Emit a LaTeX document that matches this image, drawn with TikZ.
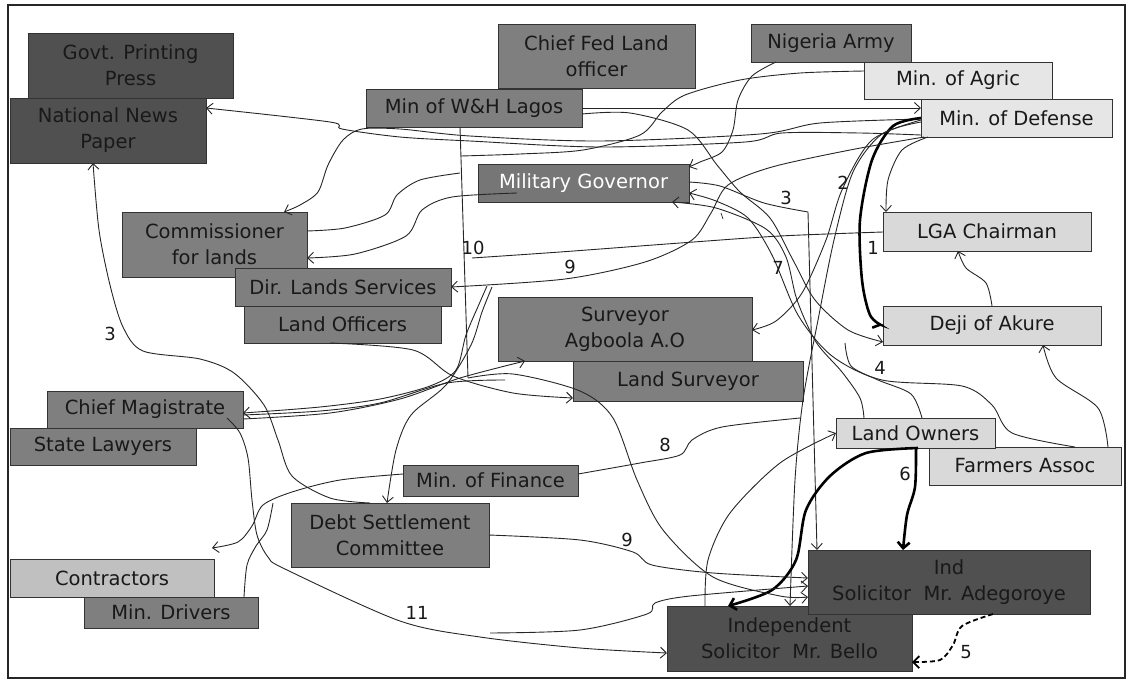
\documentclass[tikz,border=0pt]{standalone}
\usepackage{fontspec}
\setmainfont{DejaVu Sans}
\usetikzlibrary{arrows.meta,calc}
\definecolor{boxdark}{HTML}{505050}
\definecolor{boxmid}{HTML}{7F7F7F}
\definecolor{boxlight}{HTML}{D9D9D9}
\definecolor{boxpale}{HTML}{E6E6E6}
\definecolor{boxsilver}{HTML}{C0C0C0}
\definecolor{boxgov}{HTML}{767676}
\begin{document}
\begin{tikzpicture}[x=1pt,y=-1pt,
  box/.style={draw=black!80,line width=0.8pt,inner sep=0pt,outer sep=0pt,align=center,
    font=\fontsize{19.5}{26}\selectfont,text=black!90},
  dark/.style={box,fill=boxdark},
  mid/.style={box,fill=boxmid},
  light/.style={box,fill=boxlight},
  pale/.style={box,fill=boxpale},
  wire/.style={draw=black!85,line width=0.9pt},
  arr/.style={wire,-{Straight Barb[length=6pt,width=11pt]}},
  heavy/.style={draw=black,line width=2.6pt,-{Straight Barb[length=6pt,width=12pt]}},
  num/.style={font=\fontsize{18}{18}\selectfont,inner sep=1pt,text=black!90}]
\useasboundingbox (0,0) rectangle (1130,681);
\draw[line width=1.5pt,black!85] (8,5) rectangle (1125,678);

% ---- boxes ----
\node[dark,minimum width=205,minimum height=65] (govt) at (130.5,65.5) {Govt. Printing\\Press};
\node[dark,minimum width=196,minimum height=65] (nnp) at (108,130.5) {National News\\Paper};
\node[mid,minimum width=197,minimum height=64] (cfl) at (596.5,56) {Chief Fed Land\\officer};
\node[mid,minimum width=216,minimum height=38] (wh) at (474,108) {Min of W\&H Lagos};
\node[mid,minimum width=160,minimum height=38] (army) at (831,43) {Nigeria Army};
\node[pale,minimum width=188,minimum height=37] (agric) at (958,80.5) {Min. of Agric};
\node[pale,minimum width=191,minimum height=38] (def) at (1016.5,118) {Min. of Defense};
\node[box,fill=boxgov,text=white,minimum width=211,minimum height=38] (mg) at (583.5,183) {Military Governor};
\node[mid,minimum width=185,minimum height=65] (comm) at (214.5,244.5) {Commissioner\\for lands};
\node[mid,minimum width=216,minimum height=38] (dir) at (343,287) {Dir. Lands Services};
\node[mid,minimum width=197,minimum height=37] (lof) at (342.5,324.5) {Land Officers};
\node[mid,minimum width=254,minimum height=64] (surv) at (625,329) {Surveyor\\Agboola A.O};
\node[mid,minimum width=230,minimum height=40] (ls) at (688,381) {Land Surveyor};
\node[light,minimum width=208,minimum height=39] (lga) at (987,231.5) {LGA Chairman};
\node[light,minimum width=218,minimum height=39] (deji) at (992,325.5) {Deji of Akure};
\node[light,minimum width=192,minimum height=38] (farm) at (1025,466) {Farmers Assoc};
\node[light,minimum width=159,minimum height=30] (lo2) at (915.5,433) {Land Owners};
\node[mid,minimum width=196,minimum height=37] (cm) at (145,409.5) {Chief Magistrate};
\node[mid,minimum width=186,minimum height=37] (sl) at (103,446.5) {State Lawyers};
\node[mid,minimum width=175,minimum height=31] (fin) at (490.5,480.5) {Min. of Finance};
\node[mid,minimum width=198,minimum height=64] (debt) at (390,535) {Debt Settlement\\Committee};
\node[box,fill=boxsilver,minimum width=204,minimum height=38] (con) at (112,578) {Contractors};
\node[mid,minimum width=174,minimum height=31] (drv) at (171,612.5) {Min. Drivers};
\node[dark,minimum width=245,minimum height=65] (bello) at (789.5,638.5) {Independent\\Solicitor~~Mr. Bello};
\node[dark,minimum width=282,minimum height=64] (ind) at (949,582) {Ind\\Solicitor~~Mr. Adegoroye};

% ---- junction points and free ends ----
\coordinate (vtop) at (wh.south -| 460,0);
\coordinate (vbot) at (468,378);
\coordinate (vjoin) at (461,156);
\coordinate (vmid) at (460,173);
\coordinate (tenend) at (472,258);
\coordinate (mgin) at (517,193);
\coordinate (eightend) at (800,418);
\coordinate (loose) at (490,633);
\coordinate (nineA) at (487,286);
\coordinate (nineB) at (492,287);
\coordinate (lineC) at (505,380);
\coordinate (cmtxt) at (227,418);
\coordinate (conend) at ($(con.north east)+(-2,-11)$);
\coordinate (drvend) at (273,503);
\coordinate (lotip) at (845,343);

% ---- connectors ----
\draw[wire] (vtop) -- (vbot);
\draw[arr] plot[smooth] coordinates {(def.west |- 0,135) (860,133) (782,133) (745,142) (600,147) (470,141) (400,137) (342,129) (330,122) (nnp.east |- 0,108)};
\draw[arr] plot[smooth] coordinates {(def.west |- 0,119) (820,123) (760,134) (600,141) (470,136) (400,129) (362,129) (343,140) (328,165) (318,192) (300,205) (comm.north -| 284,0)};
\draw[arr] (wh.east |- 0,108) -- (def.west |- 0,108);
\draw[arr] plot[smooth] coordinates {(army.south -| 776,0) (752,76) (738,100) (733,130) (722,152) (700,162) (mg.east |- 0,167)};
\draw[wire] plot[smooth] coordinates {(agric.west |- 0,71) (800,73) (740,80) (685,95) (662,112) (640,135) (583,150) (520,154) (vjoin)};
\draw[arr] plot[smooth] coordinates {(wh.east |- 0,114) (630,113) (688,130) (717,165) (740,192) (770,218) (793,260) (815,300) (848,330) (deji.west |- 0,342)};
\draw[arr] plot[smooth] coordinates {(def.south -| 928,0) (902,150) (888,180) (lga.north -| 886,0)};
\draw[draw=black,line width=2.6pt,-{Straight Barb[length=6pt,width=12pt,harpoon,swap]}] plot[smooth] coordinates {(def.west |- 0,118) (893,126) (872,160) (860,220) (862,280) (870,315) (deji.west |- 0,326)};
\draw[arr] plot[smooth] coordinates {(def.west |- 0,120) (872,140) (842,190) (826,240) (802,293) (776,321) (surv.east |- 0,330)};
\draw[arr] plot[smooth] coordinates {(def.west |- 0,122) (882,134) (853,172) (834,240) (818,320) (803,400) (795,480) (bello.north -| 790,0)};
\draw[arr] plot[smooth] coordinates {(def.south -| 924,0) (850,150) (772,167) (728,185) (711,213) (692,240) (645,262) (565,279) (dir.east |- 0,287)};
\draw[wire] plot[smooth] coordinates {(lga.west |- 0,232) (780,236) (680,243) (560,252) (tenend)};
\draw[arr] plot[smooth] coordinates {(mg.east |- 0,182) (720,186) (764,203) (808,212)} -- (ind.north -| 817,0);
\draw[arr] plot[smooth] coordinates {(mgin) (452,197) (422,210) (406,236) (355,254) (comm.east |- 0,258)};
\draw[wire] plot[smooth] coordinates {(vmid) (420,180) (397,195) (385,215) (345,228) (comm.east |- 0,231)};
\draw[arr] plot[smooth] coordinates {(farm.north -| 1075,0) (1012,433) (992,405) (962,386) (882,380) (832,356) (798,315) (772,255) (748,218) (716,201) (mg.east |- 0,193)};
\draw[arr] plot[smooth] coordinates {(lo2.north -| 864,0) (860,398) (842,372) (816,342) (797,300) (786,257) (766,229) (716,208) (mg.south -| 672,0)};
\draw[wire] plot[smooth] coordinates {(lo2.north -| 922,0) (911,394) (878,380) (851,366) (lotip)};
\draw[arr] plot[smooth] coordinates {(deji.north -| 992,0) (986,283) (966,268) (lga.south -| 958,0)};
\draw[arr] plot[smooth] coordinates {(farm.north -| 1108,0) (1098,408) (1056,378) (deji.south -| 1043,0)};
\draw[heavy] plot[smooth] coordinates {(lo2.south -| 916,0) (915,487) (907,515) (ind.north -| 903,0)};
\draw[heavy] plot[smooth] coordinates {(lo2.south -| 918,0) (866,453) (830,476) (806,510) (796,560) (772,590) (bello.north -| 728,0)};
\draw[draw=black,line width=1.8pt,dash pattern=on 5pt off 3pt,-{Straight Barb[length=6pt,width=12pt]}] plot[smooth] coordinates {(ind.south -| 993,0) (962,626) (953,645) (940,660) (bello.east |- 0,662)};
\draw[arr] plot[smooth] coordinates {(bello.north -| 705,0) (708,560) (730,513) (780,463) (lo2.west |- 0,433)};
\draw[wire] plot[smooth] coordinates {(fin.east |- 0,474) (640,463) (680,455) (692,440) (722,427) (eightend)};
\draw[arr] plot[smooth] coordinates {(debt.east |- 0,535) (580,540) (633,552) (652,565) (713,573) (ind.west |- 0,578)};
\draw[arr] plot[smooth] coordinates {(loose) (580,630) (647,614) (655,603) (690,596) (ind.west |- 0,586)};
\draw[arr] plot[smooth] coordinates {(vbot) (513,374) (580,391) (613,418) (637,480) (663,530) (713,577) (780,596) (ind.west |- 0,597)};
\draw[arr] plot[smooth] coordinates {(lof.south -| 330,0) (413,350) (453,376) (513,393) (ls.west |- 0,398)};
\draw[arr] plot[smooth] coordinates {(nineA) (480,302) (466,335) (456,370) (430,386) (380,399) (320,407) (cm.east |- 0,413)};
\draw[wire] plot[smooth] coordinates {(lineC) (447,383) (380,403) (320,411) (cm.east |- 0,415)};
\draw[arr] plot[smooth] coordinates {(cm.east |- 0,419) (330,413) (400,399) (460,378) (surv.south -| 525,0)};
\draw[arr] plot[smooth] coordinates {(nineB) (482,312) (471,345) (446,385) (411,415) (396,450) (debt.north -| 387,0)};
\draw[arr] plot[smooth] coordinates {(debt.north -| 370,0) (330,498) (292,476) (278,440) (264,405) (234,373) (200,359) (143,351) (123,327) (110,285) (99,230) (nnp.south -| 93,0)};
\draw[arr] plot[smooth] coordinates {(cmtxt) (240,433) (248,458) (252,500) (257,535) (268,557) (285,569) (400,621) (480,637) (580,648) (bello.west |- 0,653)};
\draw[arr] plot[smooth] coordinates {(fin.west |- 0,474) (340,480) (292,492) (263,505) (252,526) (238,542) (conend)};
\draw[wire] plot[smooth] coordinates {(drv.north -| 244,0) (247,565) (256,546) (267,530) (drvend)};
\draw[wire,line width=0.7pt] (721,213) -- (723,219);

% ---- connector numbers ----
\node[num] (l3a) at (110,334) {3};
\node[num] (l10) at (473,248) {10};
\node[num] (l9a) at (570,267) {9};
\node[num] (l7) at (778,268) {7};
\node[num] (l1) at (873,248) {1};
\node[num] (l2) at (843,183) {2};
\node[num] (l3b) at (786,198) {3};
\node[num] (l4) at (880,368) {4};
\node[num] (l8) at (665,445) {8};
\node[num] (l9b) at (627,540) {9};
\node[num] (l11) at (417,613) {11};
\node[num] (l6) at (905,474) {6};
\node[num] (l5) at (966,652) {5};
\end{tikzpicture}
\end{document}
